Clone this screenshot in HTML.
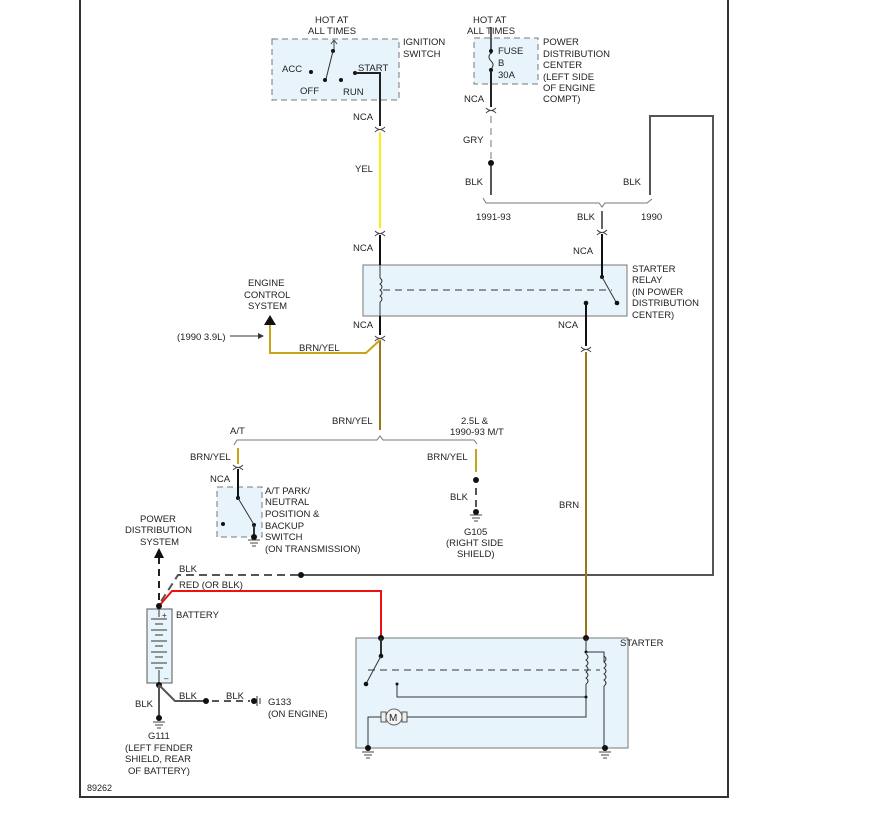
<!DOCTYPE html>
<html><head><style>
html,body{margin:0;padding:0;background:#fff;}
svg{display:block;}
text{font-family:"Liberation Sans",sans-serif;font-size:9.5px;fill:#222;}
</style></head><body>
<svg width="885" height="816" viewBox="0 0 885 816" xmlns="http://www.w3.org/2000/svg">
<defs>
<g id="gnd"><line x1="-6" y1="0" x2="6" y2="0" stroke="#444" stroke-width="1"/><line x1="-4" y1="3" x2="4" y2="3" stroke="#444"/><line x1="-2" y1="6" x2="2" y2="6" stroke="#444"/></g>
<g id="conn"><path d="M-5 -2 q5 5 10 0 M-5 3 q5 -5 10 0" stroke="#444" fill="none"/></g>
</defs>
<path d="M80 0 V797 H728 V0" fill="none" stroke="#333" stroke-width="2"/>

<rect x="272" y="39" width="127" height="61" fill="#e8f4fc" stroke="#777" stroke-dasharray="6,4"/>
<rect x="474" y="38" width="64" height="46" fill="#e8f4fc" stroke="#777" stroke-dasharray="6,4"/>
<rect x="363" y="265" width="264" height="51" fill="#e8f4fc" stroke="#777"/>
<rect x="217" y="487" width="45" height="50" fill="#e8f4fc" stroke="#777" stroke-dasharray="6,4"/>
<rect x="356" y="638" width="272" height="110" fill="#e8f4fc" stroke="#777"/>
<rect x="147" y="609" width="25" height="74" fill="#e8f4fc" stroke="#555"/>

<path d="M334 40 l-3 4 M334 40 l3 4 M334 40 V51" stroke="#444" fill="none"/>
<circle cx="333" cy="51" r="2" fill="#111"/>
<line x1="333" y1="51" x2="326" y2="79" stroke="#333"/>
<circle cx="325" cy="80" r="2" fill="#111"/>
<circle cx="311" cy="72" r="2" fill="#111"/>
<circle cx="341" cy="80" r="2" fill="#111"/>
<circle cx="355" cy="73" r="2" fill="#111"/>
<path d="M355 73 H380 V126" stroke="#222" stroke-width="2" fill="none"/>
<use href="#conn" x="380" y="129"/>
<line x1="380" y1="132" x2="380" y2="228" stroke="#f5ee10" stroke-width="2"/>
<use href="#conn" x="380" y="233"/>
<line x1="380" y1="235" x2="380" y2="265" stroke="#111" stroke-width="2"/>

<line x1="491" y1="27" x2="491" y2="54" stroke="#222" stroke-width="1.5"/>
<circle cx="491" cy="51" r="2" fill="#111"/>
<path d="M491 53 q-4 4 0 8 q4 4 0 8" stroke="#333" fill="none"/>
<circle cx="491" cy="70" r="2" fill="#111"/>
<line x1="491" y1="70" x2="491" y2="107" stroke="#222" stroke-width="2"/>
<use href="#conn" x="491" y="110"/>
<line x1="491" y1="116" x2="491" y2="160" stroke="#bbb" stroke-width="2" stroke-dasharray="7,5"/>
<circle cx="491" cy="163" r="3" fill="#111"/>
<line x1="491" y1="166" x2="491" y2="195" stroke="#555" stroke-width="2"/>
<path d="M483 198 l3 5 H599 l3 4 l3 -4 H647 l5 -4" stroke="#777" fill="none"/>
<line x1="602" y1="211" x2="602" y2="229" stroke="#666" stroke-width="2"/>
<use href="#conn" x="602" y="232"/>
<line x1="602" y1="234" x2="602" y2="277" stroke="#111" stroke-width="2"/>
<path d="M650 195 V116 H713 V575 H302" stroke="#555" stroke-width="2" fill="none"/>
<circle cx="301" cy="575" r="3" fill="#111"/>
<path d="M298 575 H178 L160 603" stroke="#555" stroke-width="2" fill="none" stroke-dasharray="8,5"/>

<path d="M380 278 q4 3 0 6 q4 3 0 6 q4 3 0 6 q4 3 0 6" stroke="#333" fill="none"/>
<line x1="380" y1="265" x2="380" y2="278" stroke="#333"/>
<line x1="380" y1="302" x2="380" y2="316" stroke="#333"/>
<line x1="383" y1="290" x2="612" y2="290" stroke="#333" stroke-dasharray="7,5"/>
<circle cx="602" cy="277" r="2" fill="#111"/>
<line x1="602" y1="277" x2="616" y2="302" stroke="#333"/>
<circle cx="617" cy="303" r="2.3" fill="#111"/>
<circle cx="586" cy="303" r="2.3" fill="#111"/>
<line x1="586" y1="303" x2="586" y2="346" stroke="#111" stroke-width="2"/>
<use href="#conn" x="586" y="349"/>
<line x1="586" y1="352" x2="586" y2="638" stroke="#9a7416" stroke-width="2"/>

<line x1="380" y1="316" x2="380" y2="335" stroke="#111" stroke-width="2"/>
<use href="#conn" x="380" y="338"/>
<line x1="380" y1="340" x2="380" y2="430" stroke="#9a7416" stroke-width="2"/>
<path d="M380 340 L366 353 H270 V325" stroke="#c8a418" stroke-width="2" fill="none"/>
<polygon points="270,315 264,325 276,325" fill="#111"/>
<line x1="230" y1="336" x2="260" y2="336" stroke="#333"/>
<polygon points="264,336 258,333 258,339" fill="#333"/>

<path d="M234 445 l3 -5 H377 l3 -4 l3 4 H474 l3 4" stroke="#777" fill="none"/>
<line x1="238" y1="448" x2="238" y2="464" stroke="#c8a418" stroke-width="2"/>
<use href="#conn" x="238" y="467"/>
<line x1="238" y1="469" x2="238" y2="498" stroke="#111" stroke-width="2"/>
<circle cx="238" cy="498" r="2" fill="#111"/>
<line x1="238" y1="498" x2="253" y2="523" stroke="#333"/>
<circle cx="254" cy="525" r="2" fill="#111"/>
<circle cx="223" cy="524" r="2" fill="#111"/>
<line x1="254" y1="525" x2="254" y2="537" stroke="#333" stroke-width="2"/>
<circle cx="254" cy="537" r="3" fill="#111"/>
<use href="#gnd" x="254" y="540"/>

<line x1="476" y1="449" x2="476" y2="472" stroke="#c8a418" stroke-width="2"/>
<circle cx="476" cy="480" r="3" fill="#111"/>
<line x1="476" y1="488" x2="476" y2="508" stroke="#555" stroke-width="2" stroke-dasharray="7,5"/>
<circle cx="476" cy="512" r="3" fill="#111"/>
<use href="#gnd" x="476" y="515"/>

<line x1="159" y1="600" x2="159" y2="558" stroke="#222" stroke-width="2" stroke-dasharray="7,5"/>
<polygon points="159,548 154,558 164,558" fill="#111"/>
<path d="M159 606 L172 591 H381 V638" stroke="#ee1111" stroke-width="2" fill="none"/>
<circle cx="159" cy="606" r="3" fill="#111"/>
<line x1="159" y1="609" x2="159" y2="617" stroke="#333"/>
<g stroke="#333">
<line x1="151" y1="619" x2="167" y2="619"/><line x1="155" y1="624" x2="163" y2="624"/>
<line x1="151" y1="630" x2="167" y2="630"/><line x1="155" y1="635" x2="163" y2="635"/>
<line x1="151" y1="641" x2="167" y2="641"/><line x1="155" y1="646" x2="163" y2="646"/>
<line x1="151" y1="652" x2="167" y2="652"/><line x1="155" y1="657" x2="163" y2="657"/>
<line x1="151" y1="663" x2="167" y2="663"/><line x1="155" y1="668" x2="163" y2="668"/>
<line x1="159" y1="670" x2="159" y2="683"/>
</g>
<text x="162" y="618" style="font-size:8px">+</text>
<text x="164" y="681" style="font-size:8px">–</text>
<circle cx="159" cy="685" r="3" fill="#111"/>
<line x1="159" y1="685" x2="159" y2="716" stroke="#555" stroke-width="2"/>
<circle cx="159" cy="718" r="3" fill="#111"/>
<use href="#gnd" x="159" y="722"/>
<path d="M159 685 L175 701 H204" stroke="#555" stroke-width="2" fill="none"/>
<circle cx="206" cy="701" r="3" fill="#111"/>
<line x1="212" y1="701" x2="250" y2="701" stroke="#555" stroke-width="2" stroke-dasharray="7,5"/>
<circle cx="254" cy="701" r="3" fill="#111"/>
<line x1="257" y1="696" x2="257" y2="706" stroke="#333"/><line x1="260" y1="698" x2="260" y2="704" stroke="#333"/>

<circle cx="381" cy="638" r="3" fill="#111"/>
<line x1="381" y1="638" x2="381" y2="656" stroke="#333" stroke-width="2"/>
<circle cx="381" cy="656" r="2.3" fill="#111"/>
<line x1="381" y1="656" x2="367" y2="682" stroke="#333"/>
<circle cx="366" cy="684" r="2.3" fill="#111"/>
<line x1="368" y1="670" x2="600" y2="670" stroke="#333" stroke-dasharray="7,5"/>
<circle cx="586" cy="638" r="3" fill="#111"/>
<path d="M586 638 V652 H604 V662" stroke="#333" fill="none"/>
<circle cx="586" cy="652" r="1.5" fill="#111"/>
<path d="M586 654 q4 3 0 6 q4 3 0 6 q4 3 0 6 q4 3 0 6 q4 3 0 6" stroke="#333" fill="none"/>
<path d="M604 656 q4 3 0 6 q4 3 0 6 q4 3 0 6 q4 3 0 6 q4 3 0 6" stroke="#333" fill="none"/>
<path d="M586 684 V717 H407" stroke="#333" fill="none"/>
<path d="M397 684 V697 H586" stroke="#333" fill="none"/>
<circle cx="397" cy="684" r="1.5" fill="#111"/>
<circle cx="586" cy="697" r="1.5" fill="#111"/>
<rect x="381" y="712" width="5" height="10" fill="#eee" stroke="#555"/>
<rect x="402" y="712" width="5" height="10" fill="#eee" stroke="#555"/>
<circle cx="394" cy="717" r="8" fill="#f4f4f4" stroke="#666"/>
<text x="389" y="721" style="font-size:10px">M</text>
<path d="M381 717 H368 V748" stroke="#333" fill="none"/>
<path d="M604 686 V748" stroke="#333" fill="none"/>
<circle cx="368" cy="748" r="3" fill="#111"/>
<circle cx="605" cy="748" r="3" fill="#111"/>
<use href="#gnd" x="368" y="752"/>
<use href="#gnd" x="605" y="752"/>

<text x="315" y="23">HOT AT</text><text x="308" y="34">ALL TIMES</text>
<text x="403" y="45">IGNITION</text><text x="403" y="57">SWITCH</text>
<text x="282" y="72">ACC</text><text x="300" y="94">OFF</text><text x="343" y="95">RUN</text><text x="358" y="71">START</text>
<text x="353" y="120">NCA</text><text x="355" y="172">YEL</text><text x="353" y="251">NCA</text>
<text x="473" y="23">HOT AT</text><text x="467" y="34">ALL TIMES</text>
<text x="498" y="54">FUSE</text><text x="498" y="66">B</text><text x="498" y="78">30A</text>
<text x="543" y="45">POWER</text><text x="543" y="57">DISTRIBUTION</text><text x="543" y="68">CENTER</text><text x="543" y="80">(LEFT SIDE</text><text x="543" y="91">OF ENGINE</text><text x="543" y="102">COMPT)</text>
<text x="464" y="102">NCA</text><text x="463" y="143">GRY</text><text x="465" y="185">BLK</text><text x="623" y="185">BLK</text>
<text x="476" y="220">1991-93</text><text x="577" y="220">BLK</text><text x="641" y="220">1990</text>
<text x="573" y="254">NCA</text>
<text x="632" y="272">STARTER</text><text x="632" y="283">RELAY</text><text x="632" y="295">(IN POWER</text><text x="632" y="306">DISTRIBUTION</text><text x="632" y="318">CENTER)</text>
<text x="248" y="286">ENGINE</text><text x="244" y="298">CONTROL</text><text x="248" y="309">SYSTEM</text>
<text x="177" y="340">(1990 3.9L)</text><text x="299" y="351">BRN/YEL</text>
<text x="353" y="328">NCA</text><text x="558" y="328">NCA</text>
<text x="332" y="424">BRN/YEL</text><text x="230" y="434">A/T</text>
<text x="461" y="424">2.5L &amp;</text><text x="450" y="435">1990-93 M/T</text>
<text x="190" y="460">BRN/YEL</text><text x="210" y="482">NCA</text>
<text x="265" y="494">A/T PARK/</text><text x="265" y="505">NEUTRAL</text><text x="265" y="517">POSITION &amp;</text><text x="265" y="529">BACKUP</text><text x="265" y="540">SWITCH</text><text x="265" y="552">(ON TRANSMISSION)</text>
<text x="427" y="460">BRN/YEL</text><text x="450" y="500">BLK</text>
<text x="464" y="535">G105</text><text x="446" y="546">(RIGHT SIDE</text><text x="457" y="557">SHIELD)</text>
<text x="559" y="508">BRN</text>
<text x="140" y="522">POWER</text><text x="125" y="533">DISTRIBUTION</text><text x="140" y="545">SYSTEM</text>
<text x="179" y="572">BLK</text><text x="179" y="588">RED (OR BLK)</text>
<text x="176" y="618">BATTERY</text>
<text x="620" y="646">STARTER</text>
<text x="135" y="707">BLK</text><text x="179" y="699">BLK</text><text x="226" y="699">BLK</text>
<text x="268" y="705">G133</text><text x="268" y="717">(ON ENGINE)</text>
<text x="148" y="739">G111</text><text x="125" y="751">(LEFT FENDER</text><text x="125" y="762">SHIELD, REAR</text><text x="128" y="774">OF BATTERY)</text>
<text x="87" y="791" style="font-size:9px">89262</text>
</svg>
</body></html>
